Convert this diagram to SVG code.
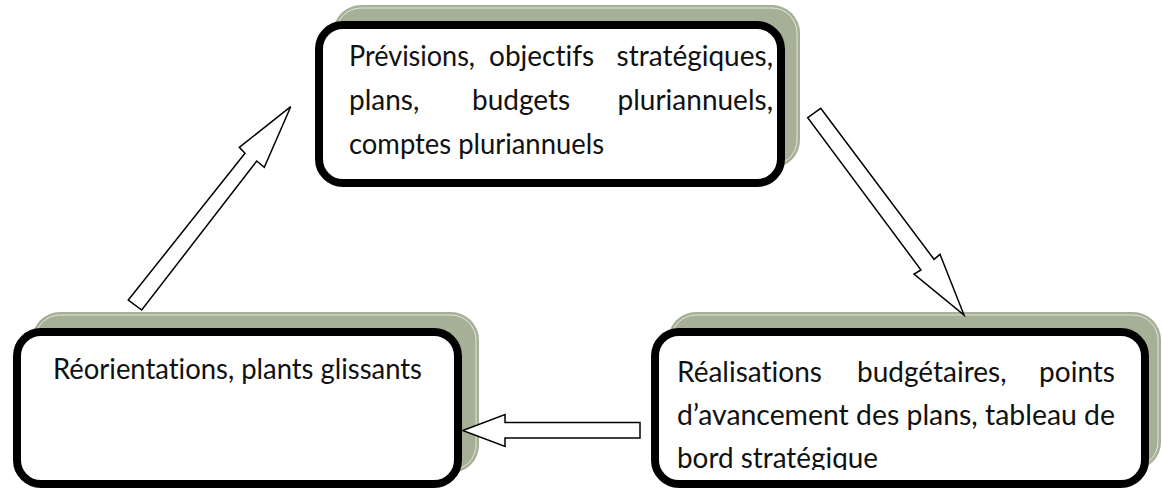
<svg xmlns="http://www.w3.org/2000/svg" width="1162" height="490" viewBox="0 0 1162 490">
  <style>
    .shadow { fill: #a6b096; }
    .shine { fill: none; stroke: #ffffff; stroke-width: 0.8; opacity: 0.85; }
    .box { fill: #ffffff; stroke: #000000; stroke-width: 8; }
    .label { font-family: Lato, "Open Sans", "Liberation Sans", sans-serif; font-size: 28px; fill: #111111; font-variant-ligatures: none; }
    .end { text-anchor: end; }
    .arrow { fill: #ffffff; stroke: #000000; stroke-width: 1.5; stroke-linejoin: miter; }
  </style>
  <defs>
    <clipPath id="clip-realisations">
      <rect x="660" y="336" width="480" height="134"/>
    </clipPath>
  </defs>

  <rect width="1162" height="490" fill="#ffffff"/>

  <!-- planning stage (justified words placed one by one) -->
  <g id="node-previsions">
    <rect class="shadow" x="333" y="5" width="467" height="163" rx="28"/>
    <rect class="shine" x="336" y="8" width="461" height="157" rx="25"/>
    <rect class="box" x="319" y="25" width="462" height="158" rx="24"/>
    <text class="label" x="349" y="66" textLength="126" lengthAdjust="spacingAndGlyphs">Prévisions,</text>
    <text class="label" x="489" y="66">objectifs</text>
    <text class="label end" x="773" y="66">stratégiques,</text>
    <text class="label" x="349" y="110">plans,</text>
    <text class="label" x="472" y="110">budgets</text>
    <text class="label end" x="773" y="110">pluriannuels,</text>
    <text class="label" x="349" y="154" textLength="255" lengthAdjust="spacingAndGlyphs">comptes pluriannuels</text>
  </g>

  <!-- follow-up stage -->
  <g id="node-realisations">
    <rect class="shadow" x="668" y="312" width="493" height="158" rx="28"/>
    <rect class="shine" x="671" y="315" width="487" height="152" rx="25"/>
    <rect class="box" x="655" y="332" width="490" height="152" rx="24"/>
    <g clip-path="url(#clip-realisations)">
      <text class="label" x="677" y="382">Réalisations</text>
      <text class="label" x="857" y="382">budgétaires,</text>
      <text class="label end" x="1115" y="382">points</text>
      <text class="label" x="677" y="425" textLength="438" lengthAdjust="spacingAndGlyphs">d’avancement des plans, tableau de</text>
      <text class="label" x="677" y="468" textLength="201" lengthAdjust="spacingAndGlyphs">bord stratégique</text>
    </g>
  </g>

  <!-- adjustment stage -->
  <g id="node-reorientations">
    <rect class="shadow" x="32" y="312" width="447" height="161" rx="28"/>
    <rect class="shine" x="35" y="315" width="441" height="155" rx="25"/>
    <rect class="box" x="17" y="332" width="441" height="152" rx="24"/>
    <text class="label" x="53" y="379" textLength="369" lengthAdjust="spacingAndGlyphs">Réorientations, plants glissants</text>
  </g>

  <!-- block arrows closing the cycle -->
  <g id="connectors">
    <polygon class="arrow" points="820.7,108.3 934,259.3 940,254.3 964,315 914,274 921,270 807.7,117.7"/>
    <polygon class="arrow" points="640,422.5 505,422.5 505,414.5 462.7,430.5 505,446.5 505,438 640,438"/>
    <polygon class="arrow" points="128.3,300 245,153.3 239.3,147.3 290.7,106.7 264.3,167.3 256.7,161 141.7,310"/>
  </g>
</svg>
